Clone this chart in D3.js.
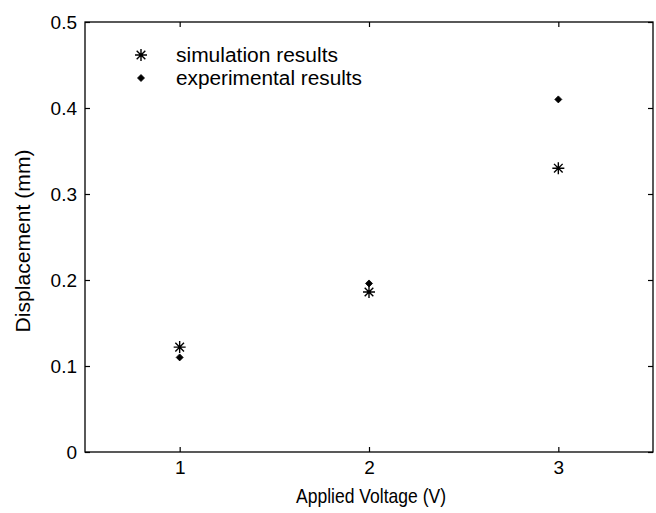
<!DOCTYPE html>
<html>
<head>
<meta charset="utf-8">
<script src="https://cdn.jsdelivr.net/npm/d3@7"></script>
<style>
  body { margin: 0; background: #fff; }
  svg text { font-family: "Liberation Sans", Arial, sans-serif; fill: #000; }
</style>
</head>
<body>
<div id="chart"></div>
<script>
var voltages = [1, 2, 3];
var simulation = [0.122, 0.186, 0.330];
var experimental = [0.110, 0.196, 0.410];
var xTicks = [1, 2, 3];
var yTicks = [0, 0.1, 0.2, 0.3, 0.4, 0.5];
var legendLabels = ["simulation results", "experimental results"];

var W = 656, H = 513;
var margin = {left: 85, right: 3, top: 22, bottom: 61};

var svg = d3.select("#chart").append("svg")
    .attr("width", W)
    .attr("height", H);

var x = d3.scaleLinear().domain([0.5, 3.5]).range([margin.left, W - margin.right]);
var y = d3.scaleLinear().domain([0, 0.5]).range([H - margin.bottom, margin.top]);

var fmt = function(d){ return d === 0 ? "0" : d3.format(".1f")(d); };

// box
svg.append("rect")
    .attr("x", x(0.5)).attr("y", y(0.5))
    .attr("width", x(3.5) - x(0.5)).attr("height", y(0) - y(0.5))
    .attr("fill", "none").attr("stroke", "#000").attr("stroke-width", 1.3);

// axes, ticks inside like matlab
var gx = svg.append("g").attr("transform", "translate(0," + y(0) + ")")
    .call(d3.axisBottom(x).tickValues(xTicks).tickSize(-5).tickPadding(9).tickFormat(d3.format("d")));
var gxTop = svg.append("g").attr("transform", "translate(0," + y(0.5) + ")")
    .call(d3.axisTop(x).tickValues(xTicks).tickSize(-5).tickFormat(""));
var gy = svg.append("g").attr("transform", "translate(" + x(0.5) + ",0)")
    .call(d3.axisLeft(y).tickValues(yTicks).tickSize(-5).tickPadding(8).tickFormat(fmt));
var gyRight = svg.append("g").attr("transform", "translate(" + x(3.5) + ",0)")
    .call(d3.axisRight(y).tickValues(yTicks).tickSize(-5).tickFormat(""));

[gx, gxTop, gy, gyRight].forEach(function(g){
  g.select(".domain").remove();
  g.selectAll(".tick line").attr("stroke", "#000").attr("stroke-width", 1.2);
  g.selectAll("text").style("font-size", "19px").attr("fill", "#000")
    .attr("font-family", "'Liberation Sans', Arial, sans-serif");
});
gy.selectAll(".tick text").attr("dy", "0.35em");

// axis titles
svg.append("text")
    .attr("x", 371).attr("y", 503)
    .attr("text-anchor", "middle")
    .attr("textLength", 150).attr("lengthAdjust", "spacingAndGlyphs")
    .style("font-size", "21px")
    .text("Applied Voltage (V)");
svg.append("text")
    .attr("transform", "translate(30,241) rotate(-90)")
    .attr("text-anchor", "middle")
    .attr("textLength", 183).attr("lengthAdjust", "spacingAndGlyphs")
    .style("font-size", "21px")
    .text("Displacement (mm)");

// markers
function star(g, cx, cy, r) {
  var d = r * 0.72;
  g.append("path")
    .attr("d", "M" + (cx - r) + "," + cy + "H" + (cx + r) +
               "M" + cx + "," + (cy - r) + "V" + (cy + r) +
               "M" + (cx - d) + "," + (cy - d) + "L" + (cx + d) + "," + (cy + d) +
               "M" + (cx - d) + "," + (cy + d) + "L" + (cx + d) + "," + (cy - d))
    .attr("stroke", "#000").attr("stroke-width", 1.4).attr("fill", "none");
}
function diamond(g, cx, cy, r) {
  g.append("path")
    .attr("d", "M" + cx + "," + (cy - r) + "L" + (cx + r) + "," + cy +
               "L" + cx + "," + (cy + r) + "L" + (cx - r) + "," + cy + "Z")
    .attr("fill", "#000").attr("stroke", "#000").attr("stroke-width", 0.8);
}

var marks = svg.append("g");
voltages.forEach(function(v, i){
  star(marks, x(v), y(simulation[i]), 6);
  diamond(marks, x(v), y(experimental[i]), 3.5);
});

// legend
var legendWidths = [162, 186];
var lg = svg.append("g");
star(lg, 141, 55, 6);
diamond(lg, 141, 78, 3.5);
lg.selectAll("text.leg").data(legendLabels).enter().append("text")
    .attr("class", "leg")
    .attr("x", 176)
    .attr("y", function(d, i){ return 55 + i * 23; })
    .attr("dy", "0.35em")
    .attr("textLength", function(d, i){ return legendWidths[i]; })
    .attr("lengthAdjust", "spacingAndGlyphs")
    .style("font-size", "20px")
    .text(function(d){ return d; });
</script>
</body>
</html>
